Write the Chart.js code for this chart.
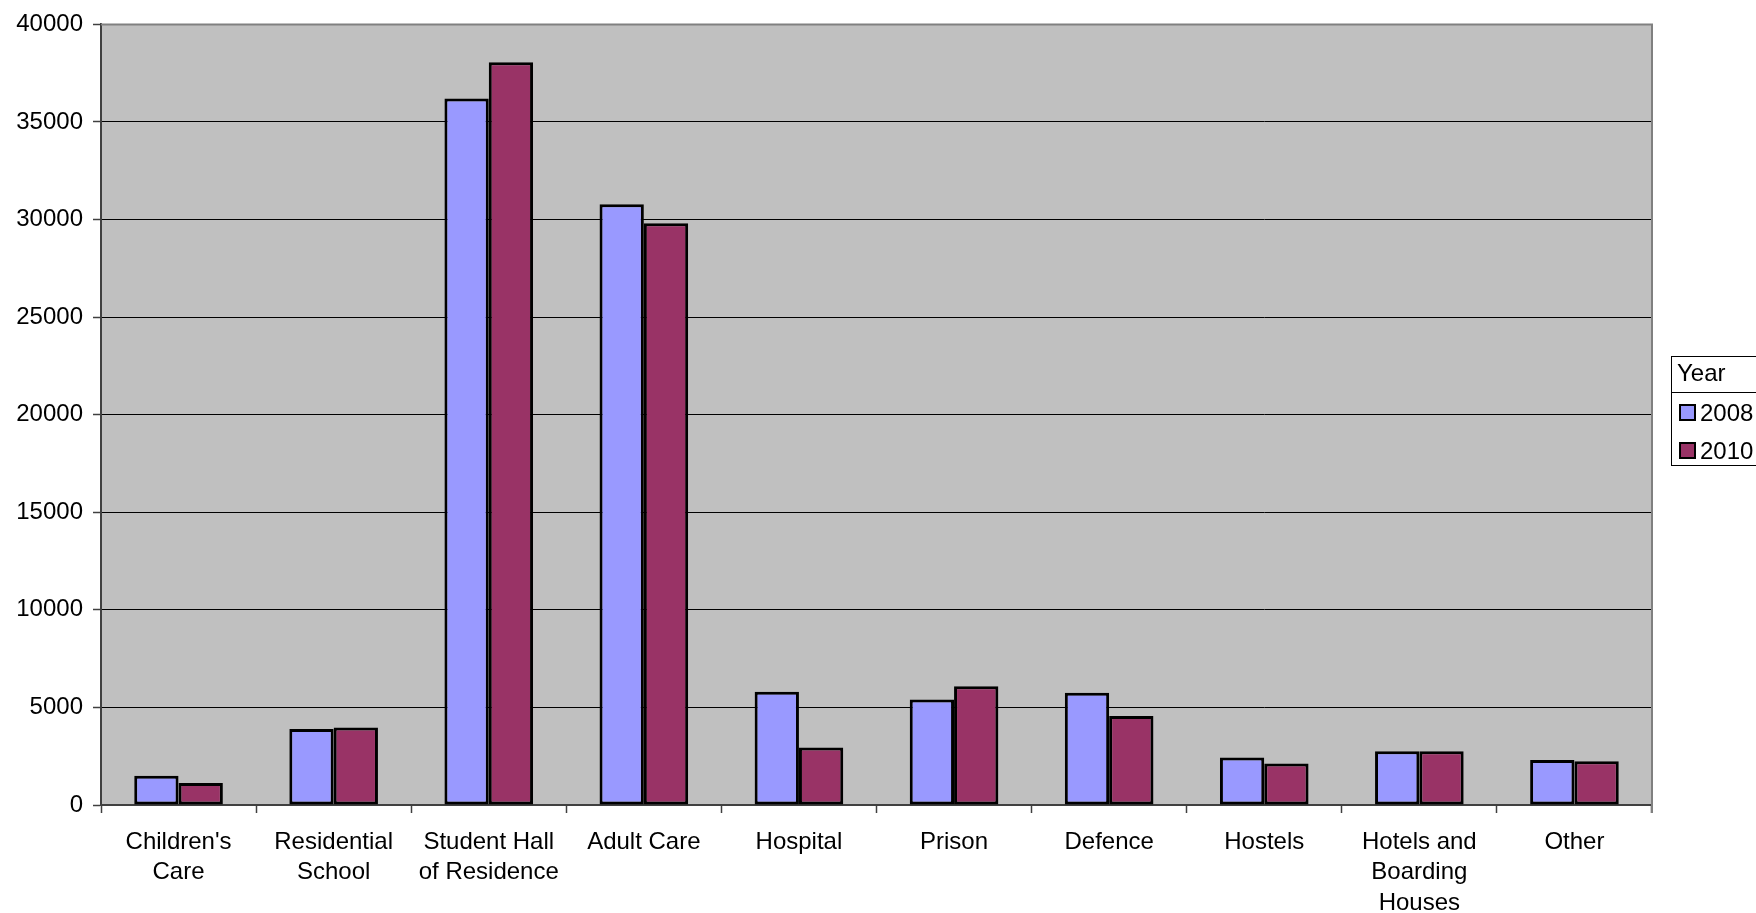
<!DOCTYPE html>
<html>
<head>
<meta charset="utf-8">
<script src="https://cdn.jsdelivr.net/npm/chart.js@4.4.1/dist/chart.umd.min.js"></script>
<style>
  html, body { margin: 0; padding: 0; background: #ffffff; }
  #wrap { width: 1756px; height: 913px; position: relative; }
</style>
</head>
<body>
<div id="wrap"><canvas id="c" width="1756" height="913"></canvas></div>
<script>
const categories = [
  ["Children's", "Care"],
  ["Residential", "School"],
  ["Student Hall", "of Residence"],
  "Adult Care",
  "Hospital",
  "Prison",
  "Defence",
  "Hostels",
  ["Hotels and", "Boarding", "Houses"],
  "Other"
];
const seriesNames = ["2008", "2010"];
const values2008 = [1500, 3890, 36200, 30780, 5800, 5410, 5750, 2440, 2760, 2310];
const values2010 = [1130, 3970, 38060, 29810, 2950, 6090, 4560, 2130, 2760, 2240];
const legendTitle = "Year";
const yTicksMax = 40000;
const yTicksStep = 5000;

const FONT = "'Liberation Sans', Arial, sans-serif";
const colors = ["#9999FF", "#993366"];

const plotBg = {
  id: 'plotBg',
  beforeDraw(chart) {
    const a = chart.chartArea, ctx = chart.ctx;
    ctx.save();
    ctx.fillStyle = '#C0C0C0';
    ctx.fillRect(a.left, a.top, a.right - a.left, a.bottom - a.top);
    ctx.restore();
  },
  beforeDatasetsDraw(chart) {
    const a = chart.chartArea, ctx = chart.ctx;
    ctx.save();
    ctx.strokeStyle = '#808080';
    ctx.lineWidth = 2;
    ctx.beginPath();
    ctx.moveTo(a.left, a.top);
    ctx.lineTo(a.right, a.top);
    ctx.lineTo(a.right, a.bottom + 8);
    ctx.stroke();
    ctx.restore();
  }
};

const boxLegend = {
  id: 'boxLegend',
  afterDraw(chart) {
    const ctx = chart.ctx;
    const x0 = 1671, top = 356, div = 392, bottom = 465, x1 = 1760;
    ctx.save();
    ctx.fillStyle = '#ffffff';
    ctx.fillRect(x0, top, x1 - x0, bottom - top);
    ctx.strokeStyle = '#000000';
    ctx.lineWidth = 1;
    ctx.strokeRect(x0 + 0.5, top + 0.5, x1 - x0, bottom - top);
    ctx.beginPath();
    ctx.moveTo(x0, div + 0.5);
    ctx.lineTo(x1, div + 0.5);
    ctx.stroke();
    ctx.font = '24px ' + FONT;
    ctx.fillStyle = '#000000';
    ctx.textBaseline = 'middle';
    ctx.textAlign = 'left';
    ctx.fillText(legendTitle, 1677, 374);
    const rows = [413, 451];
    chart.data.datasets.forEach((ds, i) => {
      const cy = rows[i];
      ctx.fillStyle = ds.backgroundColor;
      ctx.fillRect(1680, cy - 8, 15, 15);
      ctx.strokeStyle = '#000';
      ctx.lineWidth = 2;
      ctx.strokeRect(1680, cy - 8, 15, 15);
      ctx.fillStyle = '#000';
      ctx.fillText(ds.label, 1700, cy + 1);
    });
    ctx.restore();
  }
};

new Chart(document.getElementById('c'), {
  type: 'bar',
  data: {
    labels: categories,
    datasets: [
      { label: seriesNames[0], data: values2008, backgroundColor: colors[0] },
      { label: seriesNames[1], data: values2010, backgroundColor: colors[1] }
    ]
  },
  plugins: [plotBg, boxLegend],
  options: {
    responsive: false,
    animation: false,
    devicePixelRatio: 1,
    layout: { padding: { left: 0, top: 21, right: 104, bottom: 0 } },
    datasets: {
      bar: {
        barPercentage: 1.0,
        categoryPercentage: 2 / 3.5,
        borderColor: '#000000',
        borderWidth: 3,
        borderSkipped: false
      }
    },
    plugins: {
      legend: { display: false },
      tooltip: { enabled: false },
      title: { display: false }
    },
    scales: {
      x: {
        offset: true,
        grid: {
          offset: true,
          drawOnChartArea: false,
          drawTicks: true,
          tickLength: 8,
          tickColor: '#404040',
          tickWidth: 1.5
        },
        border: { display: true, color: '#404040', width: 2 },
        ticks: {
          color: '#000000',
          font: { family: FONT, size: 24, lineHeight: 1.27 },
          maxRotation: 0,
          minRotation: 0,
          autoSkip: false,
          padding: 14
        },
        afterFit(scale) { scale.height = 108; }
      },
      y: {
        min: 0,
        max: yTicksMax,
        ticks: {
          stepSize: yTicksStep,
          color: '#000000',
          font: { family: FONT, size: 24 },
          padding: 10,
          callback: (v) => String(v)
        },
        grid: {
          color: (c) => (c.tick && c.tick.value === yTicksMax) ? 'rgba(0,0,0,0)' : '#000000',
          lineWidth: 1,
          drawTicks: true,
          tickLength: 8,
          tickColor: '#404040',
          tickWidth: 1.5
        },
        border: { display: true, color: '#404040', width: 2 },
        afterFit(scale) { scale.width = 101; }
      }
    }
  }
});
</script>
</body>
</html>
